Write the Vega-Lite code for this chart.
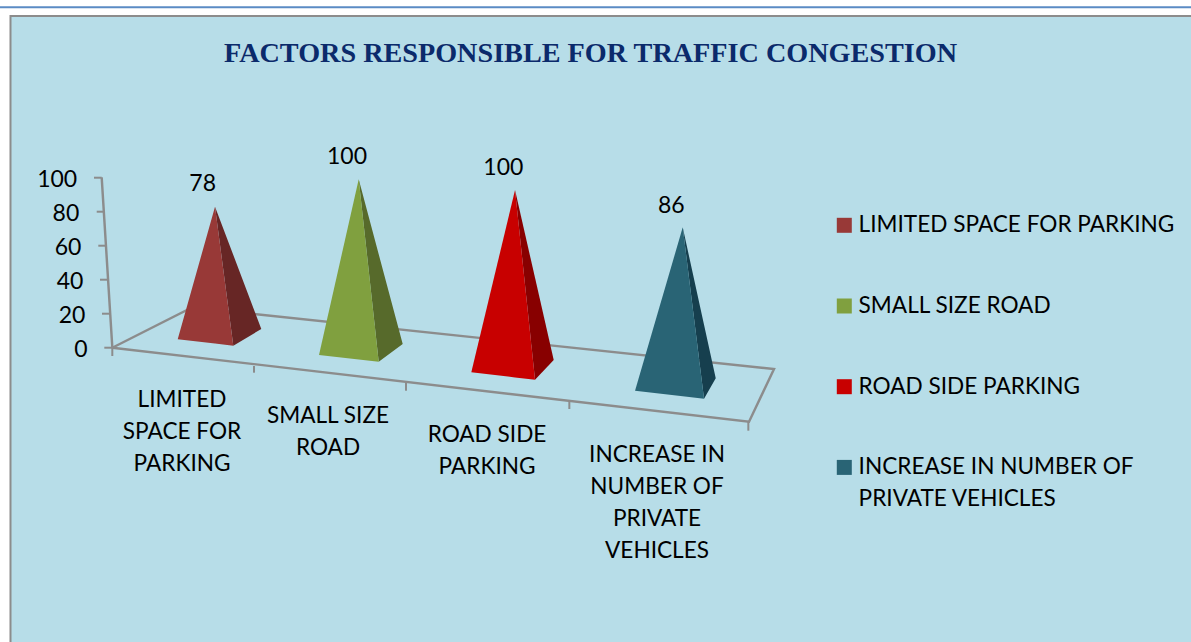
{
"$schema":"https://vega.github.io/schema/vega-lite/v6.json",
"width":1191,"height":642,"padding":0,"autosize":{"type":"none"},"background":"#ffffff",
"title":{"text":"FACTORS RESPONSIBLE FOR TRAFFIC CONGESTION","font":"Liberation Serif","fontWeight":"bold","fontSize":28.2,"color":"#0B2A6B","anchor":"middle","frame":"group","dx":-5,"dy":68,"offset":0},
"config":{"view":{"stroke":null},"style":{"guide-label":{"lineHeight":32}}},
"datasets":{
"panel":[{"pos":-0.6568,"pos2":6.985,"level":195.1,"level2":-176.6}],
"topline":[{"pos":-0.7245,"pos2":6.959,"level":200.2}],
"frame":[
{"edge":"floor","step":1,"pos":0,"level":0},
{"edge":"floor","step":2,"pos":4.1077,"level":-43.53},
{"edge":"floor","step":3,"pos":4.269,"level":-12.53},
{"edge":"floor","step":4,"pos":0.5142,"level":23.65},
{"edge":"floor","step":5,"pos":0,"level":0},
{"edge":"wall","step":1,"pos":-0.0684,"level":100.2},
{"edge":"wall","step":2,"pos":0,"level":0}],
"floorticks":[
{"pos":0,"top":0,"bottom":-4.88},
{"pos":0.9142,"top":-10.76,"bottom":-14.7},
{"pos":1.8948,"top":-20.76,"bottom":-25.3},
{"pos":2.9484,"top":-31.94,"bottom":-36.06},
{"pos":4.1032,"top":-43.53,"bottom":-48.82}],
"wallticks":[
{"tick":100,"pos":-0.1181,"pos2":-0.0684},
{"tick":80,"pos":-0.1006,"pos2":-0.0542},
{"tick":60,"pos":-0.0903,"pos2":-0.0406},
{"tick":40,"pos":-0.0794,"pos2":-0.0277},
{"tick":20,"pos":-0.0665,"pos2":-0.0148},
{"tick":0,"pos":-0.0516,"pos2":0}],
"front":[
{"factor":"LIMITED SPACE FOR PARKING","pos":0.4219,"high":4.94,"low":4.94},
{"factor":"LIMITED SPACE FOR PARKING","pos":0.6626,"high":82.94,"low":2.42},
{"factor":"LIMITED SPACE FOR PARKING","pos":0.7806,"high":1.18,"low":1.18},
{"factor":"SMALL SIZE ROAD","pos":1.3335,"high":-4.29,"low":-4.29},
{"factor":"SMALL SIZE ROAD","pos":1.5897,"high":99.06,"low":-6.92},
{"factor":"SMALL SIZE ROAD","pos":1.7187,"high":-8.24,"low":-8.24},
{"factor":"ROAD SIDE PARKING","pos":2.3161,"high":-14.47,"low":-14.47},
{"factor":"ROAD SIDE PARKING","pos":2.5981,"high":92.76,"low":-17.46},
{"factor":"ROAD SIDE PARKING","pos":2.7271,"high":-18.82,"low":-18.82},
{"factor":"INCREASE IN NUMBER OF PRIVATE VEHICLES","pos":3.3723,"high":-25.29,"low":-25.29},
{"factor":"INCREASE IN NUMBER OF PRIVATE VEHICLES","pos":3.68,"high":70.82,"low":-28.55},
{"factor":"INCREASE IN NUMBER OF PRIVATE VEHICLES","pos":3.8174,"high":-30,"low":-30}],
"side":[
{"factor":"LIMITED SPACE FOR PARKING","pos":0.6626,"high":82.94,"low":82.94},
{"factor":"LIMITED SPACE FOR PARKING","pos":0.7806,"high":54.5,"low":1.18},
{"factor":"LIMITED SPACE FOR PARKING","pos":0.9613,"high":11,"low":11},
{"factor":"SMALL SIZE ROAD","pos":1.5897,"high":99.06,"low":99.06},
{"factor":"SMALL SIZE ROAD","pos":1.7187,"high":55.02,"low":-8.24},
{"factor":"SMALL SIZE ROAD","pos":1.8735,"high":2.18,"low":2.18},
{"factor":"ROAD SIDE PARKING","pos":2.5981,"high":92.76,"low":92.76},
{"factor":"ROAD SIDE PARKING","pos":2.7271,"high":41.08,"low":-18.82},
{"factor":"ROAD SIDE PARKING","pos":2.8477,"high":-7.24,"low":-7.24},
{"factor":"INCREASE IN NUMBER OF PRIVATE VEHICLES","pos":3.68,"high":70.82,"low":70.82},
{"factor":"INCREASE IN NUMBER OF PRIVATE VEHICLES","pos":3.8174,"high":13.49,"low":-30},
{"factor":"INCREASE IN NUMBER OF PRIVATE VEHICLES","pos":3.8929,"high":-18,"low":-18}],
"values":[
{"factor":"LIMITED SPACE FOR PARKING","value":78,"pos":0.5832,"level":96.2},
{"factor":"SMALL SIZE ROAD","value":100,"pos":1.5142,"level":112.26},
{"factor":"ROAD SIDE PARKING","value":100,"pos":2.5226,"level":105.97},
{"factor":"INCREASE IN NUMBER OF PRIVATE VEHICLES","value":86,"pos":3.6065,"level":83.44}],
"categories":[
{"label":"LIMITED|SPACE FOR|PARKING","pos":0.4497,"level":-24.3},
{"label":"SMALL SIZE|ROAD","pos":1.3916,"level":-33.7},
{"label":"ROAD SIDE|PARKING","pos":2.4174,"level":-44.9},
{"label":"INCREASE IN|NUMBER OF|PRIVATE|VEHICLES","pos":3.5142,"level":-56.6}]
},
"layer":[
{"data":{"name":"panel"},"mark":{"type":"rect","fill":"#B7DDE8","stroke":"#8C8C8C","strokeWidth":2},
 "encoding":{
  "x":{"field":"pos","type":"quantitative","scale":{"domain":[-0.7245,6.959],"nice":false,"zero":false},"axis":null},
  "x2":{"field":"pos2"},
  "y":{"field":"level","type":"quantitative","scale":{"domain":[-173.12,204.53],"nice":false,"zero":false},
   "axis":{"title":null,"values":[0,20,40,60,80,100],"domain":false,"ticks":false,"grid":false,"offset":-112,"zindex":1,
     "labelFont":"Lato","labelFontSize":23,"labelColor":"#000000","labelOffset":2,
     "labelPadding":{"expr":"25 + datum.value*0.103"}}},
  "y2":{"field":"level2"}}},
{"data":{"name":"topline"},"mark":{"type":"rule","stroke":"#5B8BC4","strokeWidth":2},
 "encoding":{"x":{"field":"pos","type":"quantitative"},"x2":{"field":"pos2"},"y":{"field":"level","type":"quantitative"}}},
{"data":{"name":"frame"},"mark":{"type":"line","stroke":"#8C8C8C","strokeWidth":2.4,"interpolate":"linear"},
 "encoding":{"x":{"field":"pos","type":"quantitative"},"y":{"field":"level","type":"quantitative"},"detail":{"field":"edge"},"order":{"field":"step"}}},
{"data":{"name":"floorticks"},"mark":{"type":"rule","stroke":"#8C8C8C","strokeWidth":2},
 "encoding":{"x":{"field":"pos","type":"quantitative"},"y":{"field":"top","type":"quantitative"},"y2":{"field":"bottom"}}},
{"data":{"name":"wallticks"},"mark":{"type":"rule","stroke":"#8C8C8C","strokeWidth":2},
 "encoding":{"x":{"field":"pos","type":"quantitative"},"x2":{"field":"pos2"},"y":{"field":"tick","type":"quantitative"}}},
{"data":{"name":"side"},"mark":{"type":"area","orient":"vertical","interpolate":"linear"},
 "encoding":{"x":{"field":"pos","type":"quantitative"},"y":{"field":"high","type":"quantitative"},"y2":{"field":"low"},
  "fill":{"field":"factor","type":"nominal","legend":null,"scale":{"domain":["INCREASE IN NUMBER OF PRIVATE VEHICLES","ROAD SIDE PARKING","SMALL SIZE ROAD","LIMITED SPACE FOR PARKING"],"range":["#163F4E","#880000","#576A2B","#672625"]}}}},
{"data":{"name":"front"},"mark":{"type":"area","orient":"vertical","interpolate":"linear"},
 "encoding":{"x":{"field":"pos","type":"quantitative"},"y":{"field":"high","type":"quantitative"},"y2":{"field":"low"},
  "color":{"field":"factor","type":"nominal","scale":{"domain":["LIMITED SPACE FOR PARKING","SMALL SIZE ROAD","ROAD SIDE PARKING","INCREASE IN NUMBER OF PRIVATE VEHICLES"],"range":["#983937","#80A03F","#C80000","#296475"]},
   "legend":{"title":null,"orient":"none","legendX":833,"legendY":214,"zindex":1,"symbolType":"square","symbolSize":225,"labelFont":"Lato","labelFontSize":22.6,"labelColor":"#000000","labelLimit":400,"labelOffset":3,"rowPadding":57.7,
   "labelExpr":"datum.label === 'INCREASE IN NUMBER OF PRIVATE VEHICLES' ? ['INCREASE IN NUMBER OF','PRIVATE VEHICLES'] : datum.label"}}}},
{"data":{"name":"values"},"mark":{"type":"text","font":"Lato","fontSize":23,"color":"#000000"},
 "encoding":{"x":{"field":"pos","type":"quantitative"},"y":{"field":"level","type":"quantitative"},"text":{"field":"value","type":"quantitative"}}},
{"data":{"name":"categories"},"mark":{"type":"text","font":"Lato","fontSize":22.6,"color":"#000000","lineBreak":"|","lineHeight":32,"baseline":"top","align":"center"},
 "encoding":{"x":{"field":"pos","type":"quantitative"},"y":{"field":"level","type":"quantitative"},"text":{"field":"label","type":"nominal"}}}
]
}
